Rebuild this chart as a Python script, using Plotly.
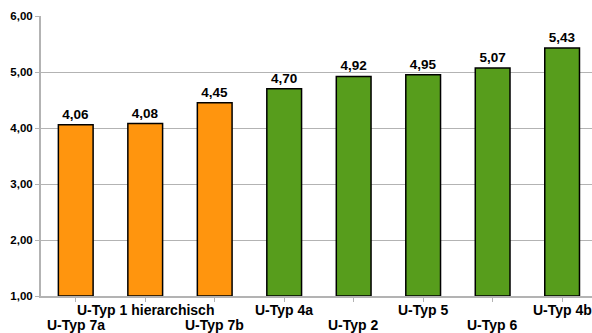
import plotly.graph_objects as go

# Category names, mean scores and bar colours
categories = ["U-Typ 7a", "U-Typ 1 hierarchisch", "U-Typ 7b", "U-Typ 4a",
              "U-Typ 2", "U-Typ 5", "U-Typ 6", "U-Typ 4b"]
values = [4.06, 4.08, 4.45, 4.70, 4.92, 4.95, 5.07, 5.43]
groups = ["orange", "orange", "orange", "green", "green", "green", "green", "green"]
palette = {"orange": "#FF950E", "green": "#579D1C"}

y_ticks = [1, 2, 3, 4, 5, 6]
y_floor = 1  # value axis starts at 1,00

FONT = "Liberation Sans, Arial, sans-serif"
GRID = "#b3b3b3"


def de(v):
    return f"{v:.2f}".replace(".", ",")


fig = go.Figure(
    go.Bar(
        x=list(range(len(categories))),
        y=[v - y_floor for v in values],
        base=y_floor,
        width=0.5,
        marker=dict(color=[palette[g] for g in groups],
                    line=dict(color="#000000", width=1.5)),
        text=[f"<b>{de(v)}</b>" for v in values],
        textposition="outside",
        textfont=dict(family=FONT, size=13.5, color="#000000"),
        cliponaxis=False,
        hoverinfo="skip",
    )
)

# Category labels staggered on two rows
for i, name in enumerate(categories):
    fig.add_annotation(
        x=i, y=0, xref="x", yref="paper",
        text=f"<b>{name}</b>", showarrow=False,
        yanchor="middle", yshift=-14 if i % 2 else -29,
        font=dict(family=FONT, size=14, color="#000000"),
    )

fig.update_layout(
    width=592, height=333,
    margin=dict(l=41, r=0, t=16, b=37),
    paper_bgcolor="white", plot_bgcolor="white",
    showlegend=False,
    xaxis=dict(
        range=[-0.5, 7.43],
        tickmode="array", tickvals=list(range(len(categories))),
        showticklabels=False,
        tickson="boundaries", ticks="outside", ticklen=4,
        tickcolor=GRID, tickwidth=1,
        showgrid=False, zeroline=False,
        showline=True, linecolor=GRID, linewidth=2,
    ),
    yaxis=dict(
        range=[y_ticks[0], y_ticks[-1]],
        tickmode="array",
        tickvals=y_ticks,
        ticktext=[f"<b>{de(t)}</b>" for t in y_ticks],
        ticks="outside", ticklen=4, tickcolor=GRID, tickwidth=1,
        tickfont=dict(family=FONT, size=11.5, color="#000000"),
        showgrid=True, gridcolor=GRID, gridwidth=1,
        zeroline=False,
        showline=True, linecolor=GRID, linewidth=2,
    ),
)

fig.write_html("out.html")
